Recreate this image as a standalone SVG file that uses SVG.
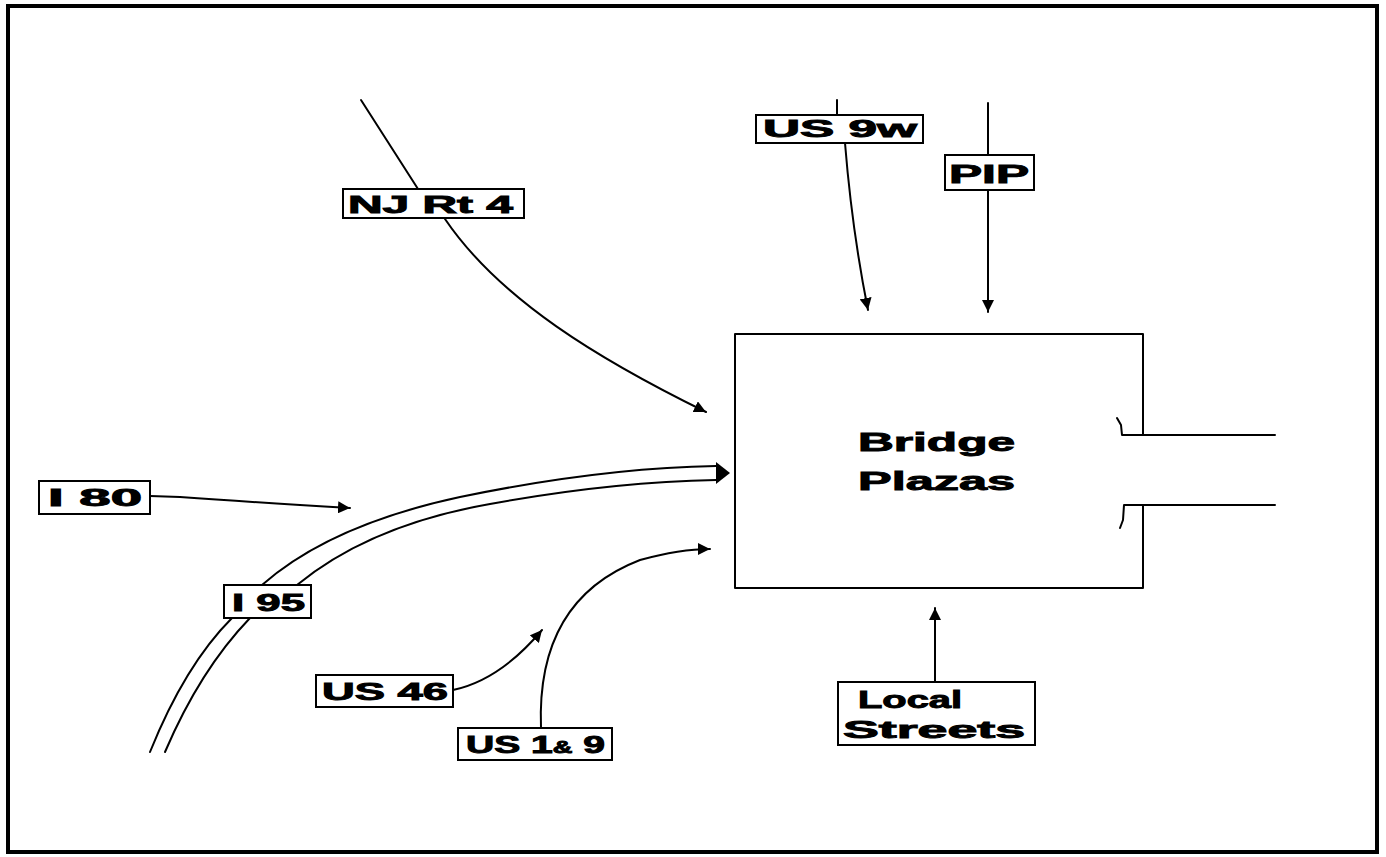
<svg xmlns="http://www.w3.org/2000/svg" width="1386" height="857" viewBox="0 0 1386 857">
<style>
.frame{fill:none;stroke:#000;stroke-width:4}
.box{fill:#fff;stroke:#000;stroke-width:2}
.ln{fill:none;stroke:#000;stroke-width:2;stroke-linecap:round;stroke-linejoin:round}
.t{font-family:"Liberation Sans",Arial,sans-serif;font-weight:bold;font-size:23px;fill:#000;stroke:#000;stroke-width:0.9}
.big{font-size:25px}
</style>
<defs>
<marker id="ah" markerUnits="userSpaceOnUse" markerWidth="14" markerHeight="12" refX="12" refY="6" orient="auto">
<path d="M0,0 L12,6 L0,12 z" fill="#000"/>
</marker>
</defs>
<rect class="frame" x="8" y="6" width="1369" height="846"/>
<g id="connectors">
<path class="ln" d="M361,100 Q390,145 418,189"/>
<path class="ln" d="M445,219 C500,300 600,360 706,412" marker-end="url(#ah)"/>
<path class="ln" d="M837,100 L837,115"/>
<path class="ln" d="M845,143 Q852,230 868,310" marker-end="url(#ah)"/>
<path class="ln" d="M988,103 L988,155"/>
<path class="ln" d="M988,190 L988,312" marker-end="url(#ah)"/>
<path class="ln" d="M150,496 L180,497 Q250,502 350,508" marker-end="url(#ah)"/>
<path class="ln" d="M150,752 Q185,665 232,618"/>
<path class="ln" d="M165,752 Q200,670 250,618"/>
<path class="ln" d="M262,585 Q330,525 460,497 Q600,468 716,466"/>
<path class="ln" d="M297,585 Q370,525 490,504 Q610,482 716,480"/>
<path d="M716,462 L730,473 L716,484 z" fill="#000"/>
<path class="ln" d="M453,690 Q500,680 542,630" marker-end="url(#ah)"/>
<path class="ln" d="M541,728 Q536,600 640,560 Q680,549 710,549" marker-end="url(#ah)"/>
<path class="ln" d="M935,682 L935,608" marker-end="url(#ah)"/>
</g>
<g id="bridge-plazas">
<path class="ln" d="M1143,435 L1143,334 L735,334 L735,588 L1143,588 L1143,505"/>
<path class="ln" d="M1275,435 L1122,435 L1121,425 L1117,418"/>
<path class="ln" d="M1275,505 L1124,505 L1123,520 L1120,528"/>
<text class="t big" x="858" y="451" textLength="157" lengthAdjust="spacingAndGlyphs">Bridge</text>
<text class="t big" x="858" y="490" textLength="157" lengthAdjust="spacingAndGlyphs">Plazas</text>
</g>
<g id="nj-rt-4">
<rect class="box" x="343" y="189" width="181" height="29"/>
<text class="t" x="348" y="213" textLength="165" lengthAdjust="spacingAndGlyphs">NJ Rt 4</text>
</g>
<g id="us-9w">
<rect class="box" x="756" y="115" width="167" height="28"/>
<text class="t" x="763" y="137" textLength="154" lengthAdjust="spacingAndGlyphs">US 9w</text>
</g>
<g id="pip">
<rect class="box" x="945" y="155" width="89" height="35"/>
<text class="t big" x="949" y="183" textLength="80" lengthAdjust="spacingAndGlyphs">PIP</text>
</g>
<g id="i-80">
<rect class="box" x="39" y="481" width="111" height="33"/>
<text class="t" x="48" y="506" textLength="94" lengthAdjust="spacingAndGlyphs">I 80</text>
</g>
<g id="i-95">
<rect class="box" x="224" y="585" width="87" height="33"/>
<text class="t" x="232" y="611" textLength="73" lengthAdjust="spacingAndGlyphs">I 95</text>
</g>
<g id="us-46">
<rect class="box" x="316" y="675" width="137" height="32"/>
<text class="t" x="322" y="700" textLength="126" lengthAdjust="spacingAndGlyphs">US 46</text>
</g>
<g id="us-1-9">
<rect class="box" x="458" y="728" width="154" height="32"/>
<text class="t" x="466" y="753" textLength="139" lengthAdjust="spacingAndGlyphs">US 1<tspan font-size="16">&amp;</tspan> 9</text>
</g>
<g id="local-streets">
<rect class="box" x="838" y="682" width="197" height="63"/>
<text class="t" x="858" y="708" textLength="104" lengthAdjust="spacingAndGlyphs">Local</text>
<text class="t" x="843" y="738" textLength="182" lengthAdjust="spacingAndGlyphs">Streets</text>
</g>
</svg>
